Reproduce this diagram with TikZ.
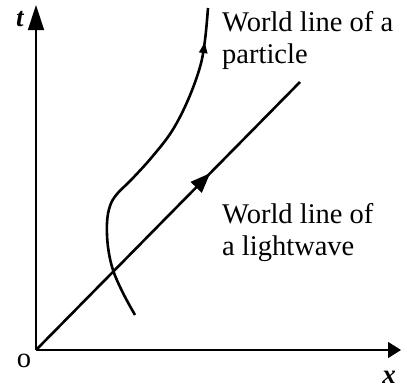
\documentclass[tikz,border=0pt]{standalone}
\usepackage{fontspec}
\setmainfont{Liberation Serif}
\usetikzlibrary{arrows.meta,decorations.markings}
\begin{document}
\begin{tikzpicture}[x=1pt,y=-1pt,
  axis/.style={line width=1.4pt},
  wline/.style={line width=2.6pt},
  lbl/.style={inner sep=0pt,anchor=base west,font=\fontsize{28.5}{32}\selectfont,align=left},
  axlbl/.style={inner sep=0pt,anchor=base,font=\fontsize{27}{30}\selectfont\bfseries\itshape}]
\useasboundingbox (0,0) rectangle (407,388);
\coordinate (O) at (36,350);
\coordinate (T) at (36,5);
\coordinate (X) at (401,350);
\coordinate (L) at (300,82);
\draw[axis,-{Triangle[length=25pt,width=16pt]}] (O) -- (T);
\draw[axis,-{Triangle[length=13pt,width=16pt]}] (O) -- (X);
\draw[wline,decoration={markings,mark=at position 0.66 with {\arrow{Triangle[length=20pt,width=15pt]}}},postaction={decorate}] (O) -- (L);
\draw[wline,decoration={markings,mark=at position 0.9 with {\arrow{Triangle[length=11pt,width=8pt]}}},postaction={decorate}]
  plot[smooth,tension=0.6] coordinates {(135,315) (123,293) (113,270) (108,247) (107,223) (110,206) (117,194) (132,179) (152,157) (172,131) (188,100) (200,67) (205,40) (208,8)};
\node[axlbl] (tl) at (20,26) {t};
\node[axlbl] (xl) at (389,383) {x};
\node[inner sep=0pt,anchor=base,font=\fontsize{28.5}{31}\selectfont] (ol) at (24,367) {o};
\node[lbl] (pl) at (222,63) {World line of a\\particle};
\node[lbl] (ll) at (222,255) {World line of\\a lightwave};
\end{tikzpicture}
\end{document}
